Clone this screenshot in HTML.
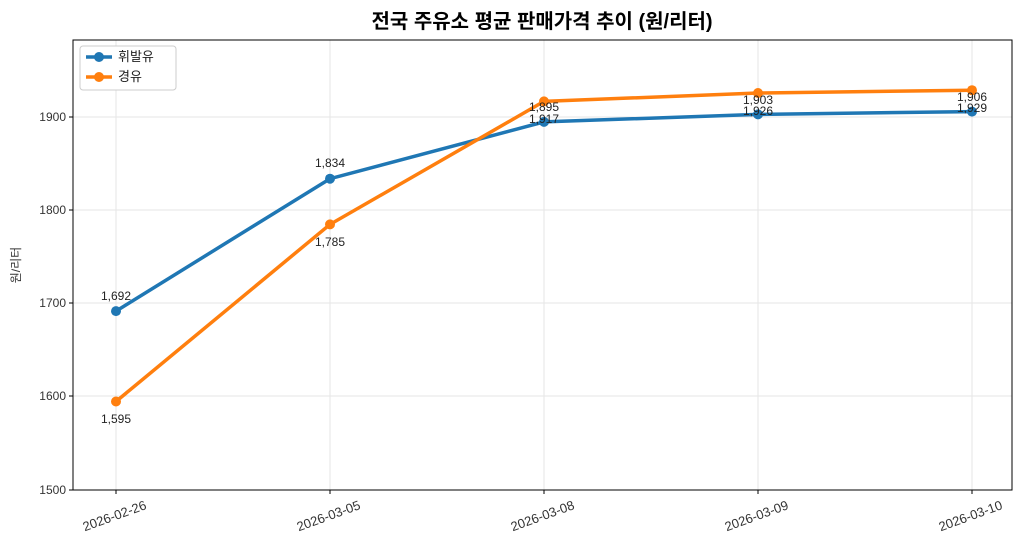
<!DOCTYPE html>
<html><head><meta charset="utf-8"><style>
html,body{margin:0;padding:0;background:#fff;}
text{font-family:"Liberation Sans","Noto Sans CJK KR",sans-serif;}
</style></head><body>
<svg width="1024" height="550" xmlns="http://www.w3.org/2000/svg">
<rect width="1024" height="550" fill="#fff"/>
<text x="542" y="28" text-anchor="middle" font-size="20" font-weight="bold" fill="#000">전국 주유소 평균 판매가격 추이 (원/리터)</text>
<g stroke="#e6e6e6" stroke-width="1">
<line x1="116" y1="40" x2="116" y2="490"/><line x1="330" y1="40" x2="330" y2="490"/><line x1="544" y1="40" x2="544" y2="490"/><line x1="758" y1="40" x2="758" y2="490"/><line x1="972" y1="40" x2="972" y2="490"/>
<line x1="73" y1="117" x2="1012" y2="117"/><line x1="73" y1="210" x2="1012" y2="210"/><line x1="73" y1="303" x2="1012" y2="303"/><line x1="73" y1="396" x2="1012" y2="396"/>
</g>
<rect x="73" y="40" width="939" height="450" fill="none" stroke="#000" stroke-width="1"/>
<g font-size="12" fill="#333" text-anchor="end">
<text x="66" y="121">1900</text><text x="66" y="214">1800</text><text x="66" y="307">1700</text><text x="66" y="400">1600</text><text x="66" y="494">1500</text>
</g>
<g stroke="#000"><line x1="69" y1="117" x2="73" y2="117"/><line x1="69" y1="210" x2="73" y2="210"/><line x1="69" y1="303" x2="73" y2="303"/><line x1="69" y1="396" x2="73" y2="396"/><line x1="69" y1="490" x2="73" y2="490"/>
<line x1="116" y1="490" x2="116" y2="494"/><line x1="330" y1="490" x2="330" y2="494"/><line x1="544" y1="490" x2="544" y2="494"/><line x1="758" y1="490" x2="758" y2="494"/><line x1="972" y1="490" x2="972" y2="494"/></g>
<text x="20" y="265" font-size="12" fill="#333" text-anchor="middle" transform="rotate(-90 20 265)">원/리터</text>
<g font-size="13" fill="#333" text-anchor="middle">
<text transform="translate(116 520) rotate(-20)">2026-02-26</text>
<text transform="translate(330 520) rotate(-20)">2026-03-05</text>
<text transform="translate(544 520) rotate(-20)">2026-03-08</text>
<text transform="translate(758 520) rotate(-20)">2026-03-09</text>
<text transform="translate(972 520) rotate(-20)">2026-03-10</text>
</g>
<polyline points="116,311.1 330,178.7 544,121.9 758,114.4 972,111.6" fill="none" stroke="#1f77b4" stroke-width="3.5"/>
<g fill="#1f77b4"><circle cx="116" cy="311.1" r="5"/><circle cx="330" cy="178.7" r="5"/><circle cx="544" cy="121.9" r="5"/><circle cx="758" cy="114.4" r="5"/><circle cx="972" cy="111.6" r="5"/></g>
<polyline points="116,401.5 330,224.4 544,101.4 758,93 972,90.2" fill="none" stroke="#ff7f0e" stroke-width="3.5"/>
<g fill="#ff7f0e"><circle cx="116" cy="401.5" r="5"/><circle cx="330" cy="224.4" r="5"/><circle cx="544" cy="101.4" r="5"/><circle cx="758" cy="93" r="5"/><circle cx="972" cy="90.2" r="5"/></g>
<g font-size="12" fill="#222" text-anchor="middle">
<text x="116" y="300">1,692</text><text x="330" y="167">1,834</text><text x="544" y="111">1,895</text><text x="758" y="104">1,903</text><text x="972" y="101">1,906</text>
<text x="116" y="423">1,595</text><text x="330" y="246">1,785</text><text x="544" y="123">1,917</text><text x="758" y="115">1,926</text><text x="972" y="112">1,929</text>
</g>
<rect x="80" y="46" width="96" height="44" rx="3" fill="#fff" stroke="#ccc"/>
<line x1="86" y1="57" x2="112" y2="57" stroke="#1f77b4" stroke-width="3.5"/><circle cx="99" cy="57" r="5" fill="#1f77b4"/>
<line x1="86" y1="77" x2="112" y2="77" stroke="#ff7f0e" stroke-width="3.5"/><circle cx="99" cy="77" r="5" fill="#ff7f0e"/>
<text x="118" y="61" font-size="13" fill="#222">휘발유</text>
<text x="118" y="81" font-size="13" fill="#222">경유</text>
</svg>
</body></html>
